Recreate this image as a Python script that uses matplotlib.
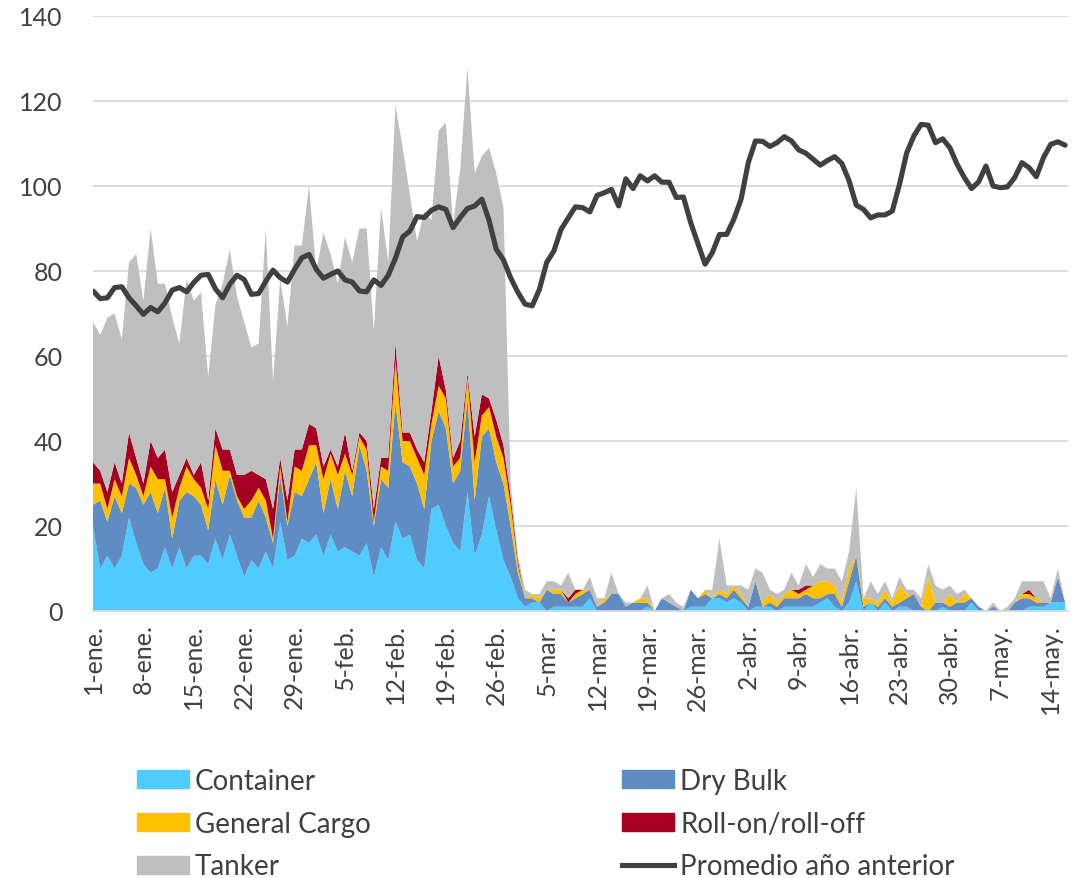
import numpy as np
import matplotlib
matplotlib.use('Agg')
import matplotlib.pyplot as plt
from matplotlib.patches import Patch
from matplotlib.lines import Line2D

plt.rcParams['font.family'] = ['Lato', 'DejaVu Sans']

# daily values, 1-ene to 16-may
container = [20, 10, 13, 10, 13, 22, 16, 11, 9, 10, 15, 10, 15, 10, 13, 13, 11, 17, 12, 18,
             13, 8, 12, 10, 14, 10, 21, 12, 13, 17, 16, 18, 13, 18, 14, 15, 14, 13, 16, 8,
             15, 12, 21, 17, 18, 12, 10, 24, 25, 20, 16, 14, 28, 13, 18, 27, 19, 12, 8, 3,
             1, 2, 2, 0, 1, 1, 1, 1, 1, 3, 0, 0, 0, 0, 0, 0, 0, 1, 0, 0,
             0, 0, 0, 1, 1, 1, 3, 3, 2, 3, 2, 0, 1, 1, 1, 0, 1, 1, 1, 1,
             1, 2, 3, 1, 0, 2, 7, 0, 2, 0, 2, 0, 1, 1, 0, 0, 0, 0, 1, 0,
             0, 0, 2, 0, 0, 0, 0, 0, 0, 0, 1, 1, 1, 2, 2, 2]
dry_bulk = [5, 16, 8, 17, 10, 8, 13, 14, 19, 13, 14, 7, 11, 18, 14, 12, 8, 14, 13, 14,
            13, 14, 10, 16, 8, 6, 11, 8, 15, 10, 15, 17, 10, 13, 10, 18, 13, 26, 17, 12,
            16, 17, 28, 18, 16, 18, 14, 16, 22, 23, 14, 19, 22, 13, 23, 16, 16, 18, 12, 6,
            2, 1, 0, 5, 3, 3, 1, 2, 3, 2, 1, 2, 4, 4, 1, 2, 2, 1, 0, 3,
            2, 1, 0, 4, 2, 3, 0, 1, 1, 2, 1, 1, 6, 0, 1, 1, 2, 2, 2, 3,
            2, 1, 1, 3, 1, 5, 6, 1, 0, 1, 1, 1, 1, 2, 4, 1, 0, 2, 1, 1,
            2, 2, 1, 1, 0, 1, 0, 0, 2, 3, 2, 1, 1, 0, 6, 0]
general_cargo = [5, 4, 3, 4, 4, 6, 3, 2, 6, 8, 2, 5, 3, 6, 4, 4, 5, 8, 8, 1,
                 1, 2, 4, 3, 4, 1, 2, 1, 6, 6, 8, 4, 8, 6, 8, 4, 5, 2, 5, 1,
                 3, 4, 10, 5, 6, 6, 8, 4, 6, 7, 4, 3, 5, 9, 5, 5, 6, 6, 5, 2,
                 0, 1, 1, 0, 1, 1, 0, 1, 1, 0, 0, 1, 0, 0, 0, 0, 1, 1, 0, 0,
                 0, 0, 0, 0, 0, 1, 0, 1, 1, 1, 1, 0, 0, 1, 2, 1, 1, 2, 1, 1,
                 3, 4, 3, 2, 1, 3, 0, 2, 1, 1, 2, 1, 4, 1, 0, 0, 8, 0, 0, 3,
                 0, 2, 0, 0, 0, 0, 0, 0, 0, 1, 1, 1, 0, 0, 0, 0]
roro = [5, 3, 4, 4, 3, 6, 4, 3, 6, 5, 7, 6, 3, 2, 1, 6, 2, 4, 5, 5,
        5, 8, 7, 3, 5, 7, 2, 5, 4, 5, 5, 4, 3, 1, 2, 5, 1, 1, 2, 3,
        2, 3, 4, 2, 2, 2, 3, 3, 7, 2, 2, 4, 1, 6, 5, 2, 4, 3, 2, 1,
        0, 0, 0, 0, 0, 0, 1, 1, 0, 0, 0, 0, 0, 0, 0, 0, 0, 0, 0, 0,
        0, 0, 0, 0, 0, 0, 0, 0, 0, 0, 0, 0, 0, 0, 0, 0, 0, 0, 1, 1,
        0, 0, 0, 0, 0, 0, 0, 0, 0, 0, 0, 0, 0, 0, 0, 0, 0, 0, 0, 0,
        0, 0, 0, 0, 0, 0, 0, 0, 0, 0, 1, 0, 0, 0, 0, 0]
tanker = [33, 32, 41, 35, 34, 40, 48, 43, 50, 41, 39, 41, 31, 42, 41, 40, 29, 29, 39, 47,
          42, 36, 29, 31, 59, 30, 42, 41, 48, 48, 56, 37, 55, 46, 43, 46, 49, 48, 50, 42,
          59, 46, 56, 67, 56, 49, 59, 45, 53, 63, 55, 64, 72, 62, 56, 59, 58, 56, 3, 1,
          2, 0, 1, 2, 2, 1, 6, 0, 0, 3, 2, 0, 5, 0, 1, 0, 0, 3, 0, 0,
          2, 1, 1, 0, 0, 0, 2, 12, 2, 0, 2, 4, 3, 7, 1, 2, 1, 4, 1, 5,
          2, 4, 3, 4, 5, 4, 16, 0, 4, 2, 2, 1, 2, 1, 1, 2, 3, 4, 3, 2,
          2, 1, 0, 0, 0, 1, 0, 1, 1, 3, 2, 4, 5, 1, 2, 0]
promedio = [75.3, 73.5, 73.7, 76.1, 76.3, 73.7, 71.8, 69.8, 71.4, 70.4, 72.5, 75.5, 76.1, 75.1, 77.3,
            79.0, 79.2, 75.8, 73.7, 76.9, 79.0, 78.0, 74.5, 74.7, 77.6, 80.2, 78.4, 77.4, 80.4, 83.1,
            83.9, 80.4, 78.3, 79.2, 80.0, 77.9, 77.4, 75.3, 75.1, 77.9, 76.6, 79.0, 83.0, 88.0, 89.4,
            92.8, 92.6, 94.3, 95.1, 94.5, 90.2, 92.6, 94.7, 95.3, 96.9, 91.9, 85.1, 82.6, 78.4, 75.0,
            72.2, 71.8, 75.7, 82.0, 84.7, 89.8, 92.5, 95.1, 94.9, 93.9, 97.8, 98.4, 99.2, 95.3, 101.7,
            99.4, 102.4, 101.2, 102.4, 100.9, 100.9, 97.3, 97.4, 91.4, 86.5, 81.6, 84.3, 88.6, 88.6, 92.2,
            96.9, 105.5, 110.6, 110.5, 109.3, 110.2, 111.6, 110.6, 108.5, 107.7, 106.3, 104.9, 106.0, 106.9, 105.3,
            101.2, 95.5, 94.5, 92.5, 93.2, 93.2, 94.1, 100.4, 107.8, 111.8, 114.5, 114.3, 110.2, 111.1, 109.0,
            105.1, 102.0, 99.4, 101.0, 104.7, 100.0, 99.6, 99.8, 102.0, 105.5, 104.3, 102.2, 106.7, 109.8, 110.4,
            109.6]

tick_labels = ['1-ene.', '8-ene.', '15-ene.', '22-ene.', '29-ene.', '5-feb.', '12-feb.', '19-feb.',
               '26-feb.', '5-mar.', '12-mar.', '19-mar.', '26-mar.', '2-abr.', '9-abr.', '16-abr.',
               '23-abr.', '30-abr.', '7-may.', '14-may.']

days = np.arange(len(promedio))
colors = ['#4FCBFF', '#5F8CC2', '#FFC000', '#A50021', '#BFBFBF']
txt = '#404040'

fig = plt.figure(figsize=(10.84, 8.79), dpi=100)
ax = fig.add_axes([93 / 1084, 267 / 879, 975 / 1084, 595 / 879])

ax.stackplot(days, container, dry_bulk, general_cargo, roro, tanker, colors=colors, lw=0)
ax.plot(days, promedio, color='#404040', lw=3.7, solid_joinstyle='round', solid_capstyle='round')

ax.set_xlim(0, 135.4)
ax.set_ylim(0, 140)
ax.set_yticks(range(0, 141, 20))
ax.set_xticks(days[::7])
ax.set_xticklabels(tick_labels, rotation=90)
ax.grid(axis='y', color='#D9D9D9', lw=1.3)
ax.set_axisbelow(True)
for s in ['left', 'right', 'top']:
    ax.spines[s].set_visible(False)
ax.spines['bottom'].set_color('#D9D9D9')
ax.spines['bottom'].set_linewidth(1.3)
ax.tick_params(axis='both', length=0, labelsize=18, colors=txt)
ax.tick_params(axis='y', pad=22)
ax.tick_params(axis='x', pad=9)

# legend in two columns
h = [Patch(color=c) for c in colors]
line_h = Line2D([], [], color='#404040', lw=3.7)
leg_kw = dict(frameon=False, fontsize=20, labelcolor=txt, loc='upper left', borderpad=0,
              borderaxespad=0, handlelength=1.87, handleheight=0.62, handletextpad=0.22,
              labelspacing=0.6)
leg1 = fig.legend([h[0], h[2], h[4]], ['Container', 'General Cargo', 'Tanker'],
                  bbox_to_anchor=(137 / 1084, 1 - 769 / 879), **leg_kw)
leg2 = fig.legend([h[1], h[3], line_h], ['Dry Bulk', 'Roll-on/roll-off', 'Promedio año anterior'],
                  bbox_to_anchor=(622 / 1084, 1 - 769 / 879), **leg_kw)

fig.savefig('out.png', dpi=100)
